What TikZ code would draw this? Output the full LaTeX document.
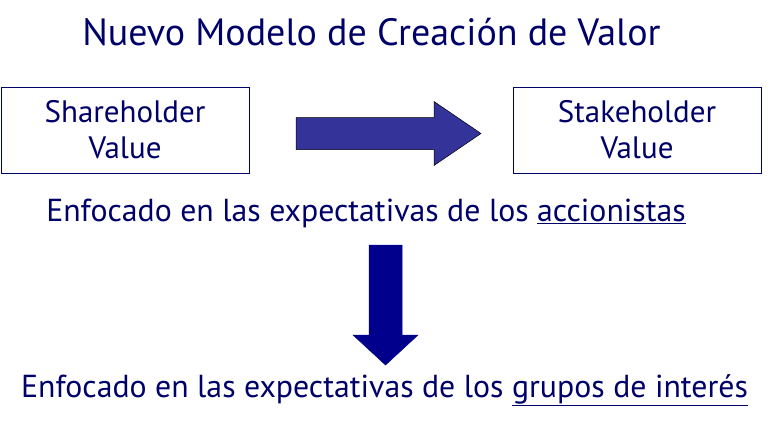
\documentclass[tikz,border=0pt]{standalone}
\usepackage{fontspec}
\setmainfont{PT Sans}
\usetikzlibrary{positioning}
\definecolor{navytext}{RGB}{0,0,105}
\definecolor{arrowblue}{RGB}{51,51,153}
\definecolor{arrownavy}{RGB}{0,0,140}
\tikzset {
    value box/.style = {
        draw = navytext, line width = 0.8pt,
        minimum width = 248pt, minimum height = 86pt,
        align = center, text = navytext,
        font = \fontsize{31}{36}\selectfont
    },
    title/.style = {text = navytext, anchor = base, inner sep = 0pt,
        font = \fontsize{38}{44}\selectfont},
    focus/.style = {text = navytext, anchor = base, inner sep = 0pt,
        font = \fontsize{31.8}{40}\selectfont},
    block arrow/.style = {fill = arrowblue, draw = black, line width = 0.5pt},
    down arrow/.style = {fill = arrownavy, draw = arrownavy, line width = 0.5pt}
}
\begin{document}
\begin{tikzpicture}[x = 1pt, y = -1pt]
    \useasboundingbox (0, 0) rectangle (774, 436);
    \node (t) [title] at (371.5, 46) {Nuevo Modelo de Creación de Valor};
    \node (sh) [value box] at (125, 130) {Shareholder\\Value};
    \node (st) [value box] at (637, 130) {Stakeholder\\Value};
    \node (f1) [focus] at (366, 221) {Enfocado en las expectativas de los \underline{accionistas}};
    \node (f2) [focus] at (384.5, 397) {Enfocado en las expectativas de los \underline{grupos de interés}};
    % horizontal arrow
    \coordinate (h) at (296, 134);
    \draw [block arrow] (h) ++(0, -16.5) -- ++(138, 0) -- ++(0, -16)
        -- ++(47, 32) -- ++(-47, 32) -- ++(0, -16) -- ++(-138, 0) -- cycle;
    % vertical arrow
    \coordinate (v) at (385.5, 245);
    \draw [down arrow] (v) ++(-16.5, 0) -- ++(33, 0) -- ++(0, 90) -- ++(16, 0)
        -- ++(-32.5, 30) -- ++(-32.5, -30) -- ++(16, 0) -- cycle;
\end{tikzpicture}
\end{document}
